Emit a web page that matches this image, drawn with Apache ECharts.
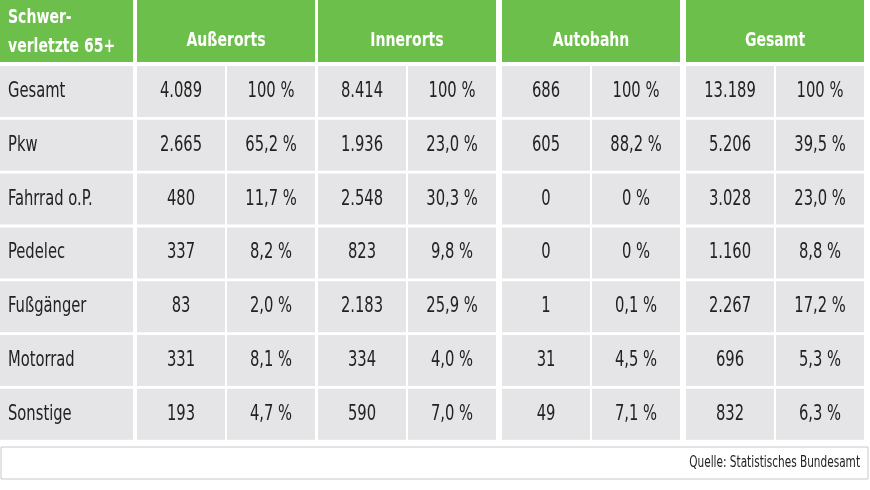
<!DOCTYPE html>
<html>
<head>
<meta charset="utf-8">
<script src="https://cdn.jsdelivr.net/npm/echarts@6/dist/echarts.min.js"></script>
<style>
  html, body { margin: 0; padding: 0; background: #fff; }
  #main { width: 870px; height: 490px; }
</style>
</head>
<body>
<div id="main"></div>
<script>
// Tabelle: Schwerverletzte 65+
var categories = ['Gesamt', 'Pkw', 'Fahrrad o.P.', 'Pedelec', 'Fußgänger', 'Motorrad', 'Sonstige'];
var groups = ['Außerorts', 'Innerorts', 'Autobahn', 'Gesamt'];
var ausserortsAbs = ['4.089', '2.665', '480', '337', '83', '331', '193'];
var ausserortsPct = ['100 %', '65,2 %', '11,7 %', '8,2 %', '2,0 %', '8,1 %', '4,7 %'];
var innerortsAbs = ['8.414', '1.936', '2.548', '823', '2.183', '334', '590'];
var innerortsPct = ['100 %', '23,0 %', '30,3 %', '9,8 %', '25,9 %', '4,0 %', '7,0 %'];
var autobahnAbs = ['686', '605', '0', '0', '1', '31', '49'];
var autobahnPct = ['100 %', '88,2 %', '0 %', '0 %', '0,1 %', '4,5 %', '7,1 %'];
var gesamtAbs = ['13.189', '5.206', '3.028', '1.160', '2.267', '696', '832'];
var gesamtPct = ['100 %', '39,5 %', '23,0 %', '8,8 %', '17,2 %', '5,3 %', '6,3 %'];
var headerLabel = 'Schwer-\nverletzte 65+';
var source = 'Quelle: Statistisches Bundesamt';

var valueCols = [ausserortsAbs, ausserortsPct, innerortsAbs, innerortsPct,
                 autobahnAbs, autobahnPct, gesamtAbs, gesamtPct];

// Layout (Pixel-Einheiten auf den Achsen)
var FONT = "'Liberation Sans Narrow', 'DejaVu Sans Condensed', 'DejaVu Sans', sans-serif";
var GREEN = '#6cbf4a', CELL = '#e5e5e7';
var groupStart = [137, 318, 502, 686], groupW = 178, labelW = 133;
var headerH = 62, rowTop = 66, rowPitch = 53.8, rowH = 51;

var cells = [];
cells.push({ kind: 'head', x0: 0, x1: labelW, r: -1, text: headerLabel, align: 'left' });
groups.forEach(function (g, i) {
  cells.push({ kind: 'head', x0: groupStart[i], x1: groupStart[i] + groupW, r: -1, text: g, align: 'center' });
});
categories.forEach(function (c, r) {
  cells.push({ kind: 'cell', x0: 0, x1: labelW, r: r, text: c, align: 'left' });
  valueCols.forEach(function (col, j) {
    var g = Math.floor(j / 2), s = groupStart[g] + (j % 2) * (groupW / 2 + 1);
    cells.push({ kind: 'cell', x0: s, x1: s + groupW / 2 - 1, r: r, text: col[r], align: 'center' });
  });
});
cells.push({ kind: 'foot', x0: 1, x1: 868, r: 7, text: source, align: 'right' });

var chart = echarts.init(document.getElementById('main'));
chart.setOption({
  animation: false,
  grid: { left: 0, right: 0, top: 0, bottom: 0 },
  xAxis: { type: 'value', min: 0, max: 870, show: false },
  yAxis: { type: 'value', min: 0, max: 490, inverse: true, show: false },
  series: [{
    type: 'custom',
    data: cells.map(function (c, i) { return [i]; }),
    renderItem: function (params, api) {
      var c = cells[api.value(0)];
      var y0, y1;
      if (c.kind === 'head') { y0 = 0; y1 = headerH; }
      else if (c.kind === 'foot') { y0 = 447; y1 = 479; }
      else { y0 = rowTop + c.r * rowPitch; y1 = y0 + rowH; }
      var p0 = api.coord([c.x0, y0]), p1 = api.coord([c.x1, y1]);
      var w = p1[0] - p0[0], h = p1[1] - p0[1];
      var tx = c.align === 'left' ? p0[0] + 8 : (c.align === 'right' ? p1[0] - 8 : p0[0] + w / 2);
      var isHead = c.kind === 'head';
      var ty = p0[1] + h / 2 + (isHead && c.align === 'center' ? 10 : 0) + (isHead && c.align === 'left' ? 1 : 0);
      return {
        type: 'group',
        children: [{
          type: 'rect',
          shape: { x: p0[0], y: p0[1], width: w, height: h },
          style: isHead ? { fill: GREEN } :
                 c.kind === 'foot' ? { fill: '#fff', stroke: '#c8c8c8', lineWidth: 1 } : { fill: CELL }
        }, {
          type: 'text',
          x: tx, y: ty,
          scaleX: 0.78,
          style: {
            x: 0, y: 0,
            text: c.text,
            align: c.align, verticalAlign: 'middle',
            fill: isHead ? '#fff' : '#222',
            fontFamily: FONT,
            fontWeight: isHead ? 'bold' : 'normal',
            fontSize: isHead ? 20 : (c.kind === 'foot' ? 15 : 21),
            lineHeight: isHead ? 29 : 24
          }
        }]
      };
    }
  }]
});
</script>
</body>
</html>
